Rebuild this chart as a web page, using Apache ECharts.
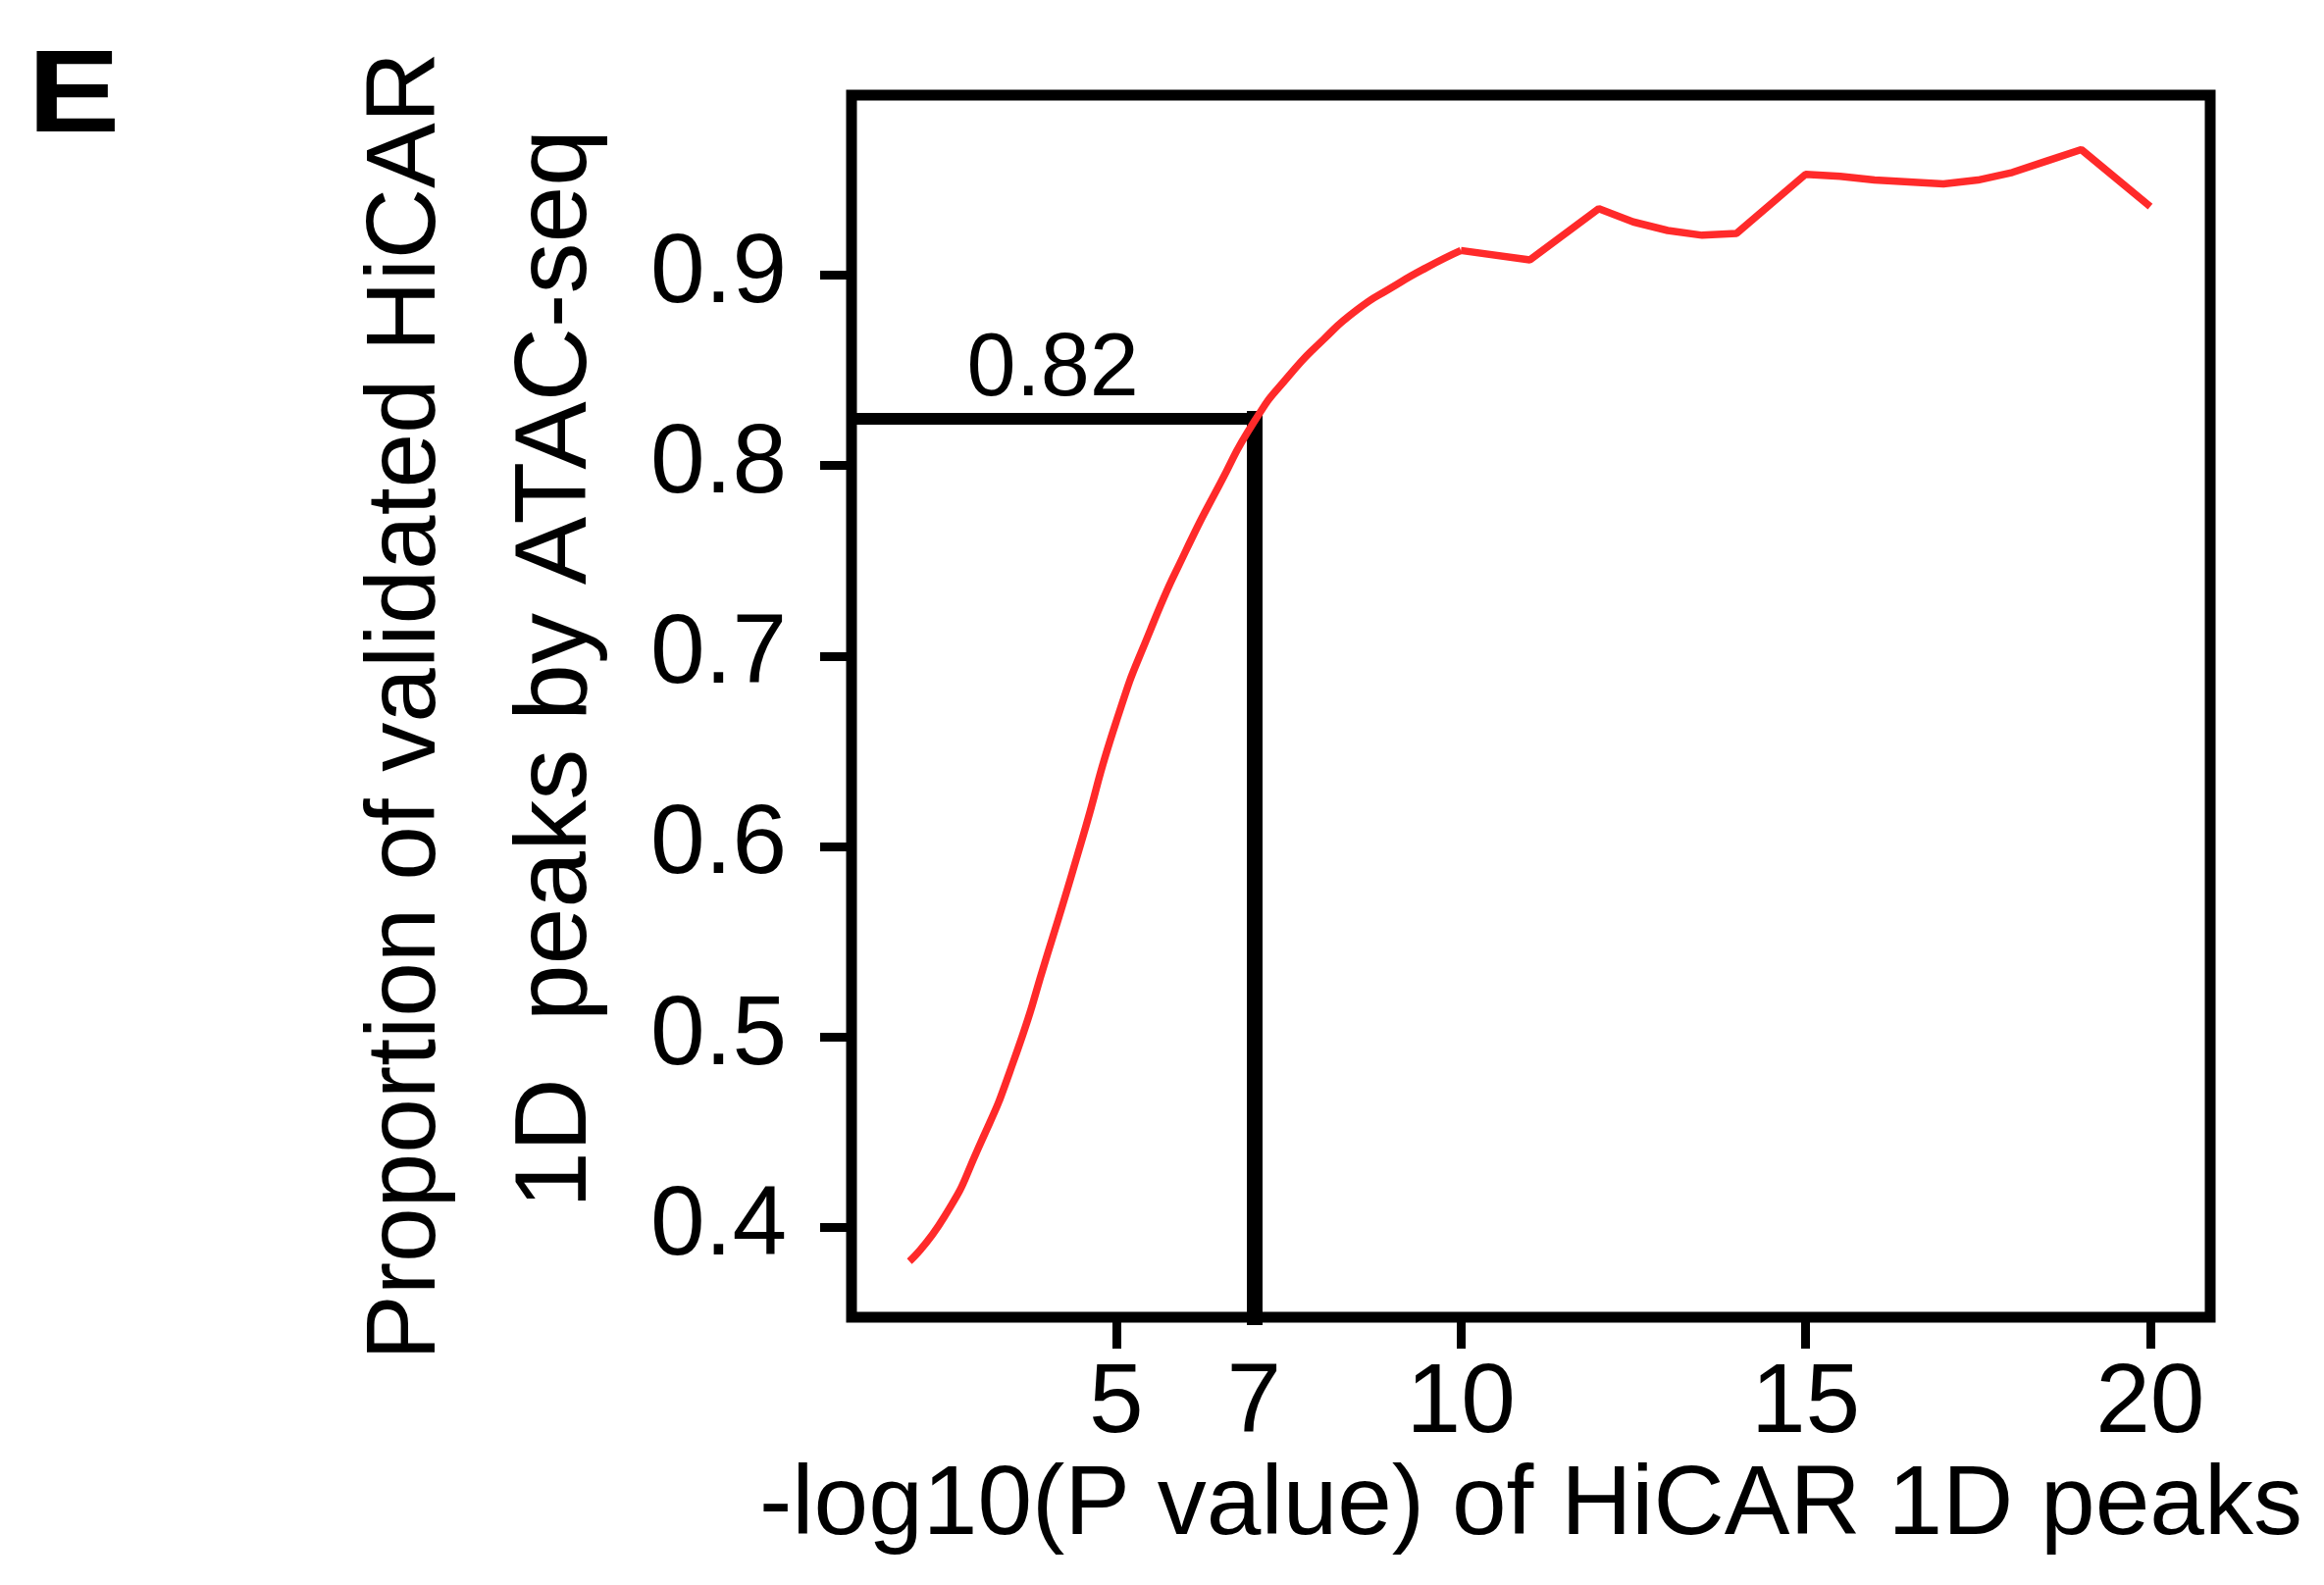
<!DOCTYPE html>
<html>
<head>
<meta charset="utf-8">
<title>Validated HiCAR 1D peaks</title>
<script src="https://cdn.jsdelivr.net/npm/echarts@6/dist/echarts.min.js"></script>
<style>
  html, body { margin: 0; padding: 0; background: #fff; }
  #chart { width: 2369px; height: 1616px; }
</style>
</head>
<body>
<div id="chart"></div>
<script>
// smooth rise, 2 -> 10
const lowX = [2, 2.5, 3, 3.5, 4, 4.5, 5, 5.5, 6, 6.5, 7, 7.5, 8, 8.5, 9, 9.5, 10];
const lowY = [0.382, 0.405, 0.4415, 0.486, 0.543, 0.603, 0.6655, 0.714, 0.7545, 0.790, 0.823, 0.847, 0.866, 0.882, 0.8936, 0.904, 0.913];
// kinked plateau, 10 -> 20
const highX = [10, 11, 12, 12.5, 13, 13.5, 14, 15, 15.5, 16, 16.5, 17, 17.5, 18, 18.5, 19, 20];
const highY = [0.913, 0.908, 0.935, 0.928, 0.9235, 0.921, 0.922, 0.953, 0.952, 0.950, 0.949, 0.948, 0.950, 0.954, 0.960, 0.966, 0.936];

const xTicks = [5, 10, 15, 20];
const xLabels = [5, 7, 10, 15, 20];
const yTicks = [0.4, 0.5, 0.6, 0.7, 0.8, 0.9];

// cutoff marked on the plot
const cutX = 7;
const cutY = 0.8246;
const cutText = '0.82';

// axis ranges (R style padding)
const X_MIN = 1.16, X_MAX = 20.87;
const Y_MIN = 0.3526, Y_MAX = 0.9946;

const FONT = '"Liberation Sans", Arial, Helvetica, sans-serif';
const RED = '#ff2a2a';

const chart = echarts.init(document.getElementById('chart'), null, { renderer: 'canvas' });

const pairs = (xs, ys) => xs.map((x, i) => [x, ys[i]]);

chart.setOption({
  animation: false,
  backgroundColor: '#fff',
  grid: {
    left: 868, right: 116, top: 97, bottom: 273,
    show: true, borderColor: '#000', borderWidth: 11
  },
  xAxis: {
    type: 'value', min: X_MIN, max: X_MAX,
    axisLine: { show: false },
    splitLine: { show: false },
    axisTick: { show: true, customValues: xTicks, length: 32, lineStyle: { color: '#000', width: 9 } },
    axisLabel: { customValues: xLabels, margin: 39, fontSize: 100, color: '#000', fontFamily: FONT },
    name: '-log10(P value) of HiCAR 1D peaks',
    nameLocation: 'middle',
    nameGap: 131,
    nameTextStyle: { fontSize: 100, color: '#000', fontFamily: FONT }
  },
  yAxis: {
    type: 'value', min: Y_MIN, max: Y_MAX,
    axisLine: { show: false },
    splitLine: { show: false },
    axisTick: { show: true, customValues: yTicks, length: 32, lineStyle: { color: '#000', width: 9 } },
    axisLabel: {
      customValues: yTicks, margin: 66, fontSize: 100, color: '#000', fontFamily: FONT,
      formatter: v => v.toFixed(1)
    }
  },
  series: [
    {
      type: 'line',
      data: pairs(lowX, lowY),
      smooth: 0.6,
      showSymbol: false,
      lineStyle: { color: RED, width: 7.5 },
      z: 5,
      // horizontal cutoff line with its label
      markLine: {
        silent: true,
        symbol: ['none', 'none'],
        lineStyle: { color: '#000', type: 'solid', width: 12 },
        label: {
          show: true, formatter: cutText, position: 'middle', distance: 4,
          fontSize: 90, color: '#000', fontFamily: FONT
        },
        data: [[{ coord: [X_MIN, cutY] }, { coord: [cutX, cutY] }]]
      }
    },
    {
      type: 'line',
      data: pairs(highX, highY),
      showSymbol: false,
      lineStyle: { color: RED, width: 7.5 },
      z: 5,
      // vertical cutoff line down to the x axis
      markLine: {
        silent: true,
        symbol: ['none', 'none'],
        lineStyle: { color: '#000', type: 'solid', width: 16, cap: 'square' },
        label: { show: false },
        data: [[{ coord: [cutX, cutY] }, { coord: [cutX, Y_MIN] }]]
      }
    }
  ],
  graphic: [
    {
      type: 'text', x: 28, y: 42, scaleX: 1.2,
      style: { text: 'E', font: 'bold 118px ' + FONT, fill: '#000' }
    },
    {
      type: 'text', x: 415, y: 720, rotation: Math.PI / 2,
      style: {
        text: 'Proportion of validated HiCAR', font: '100px ' + FONT, fill: '#000',
        align: 'center', verticalAlign: 'middle'
      }
    },
    {
      type: 'text', x: 568, y: 682, rotation: Math.PI / 2,
      style: {
        text: '1D  peaks by ATAC-seq', font: '104px ' + FONT, fill: '#000',
        align: 'center', verticalAlign: 'middle'
      }
    }
  ]
});
</script>
</body>
</html>
